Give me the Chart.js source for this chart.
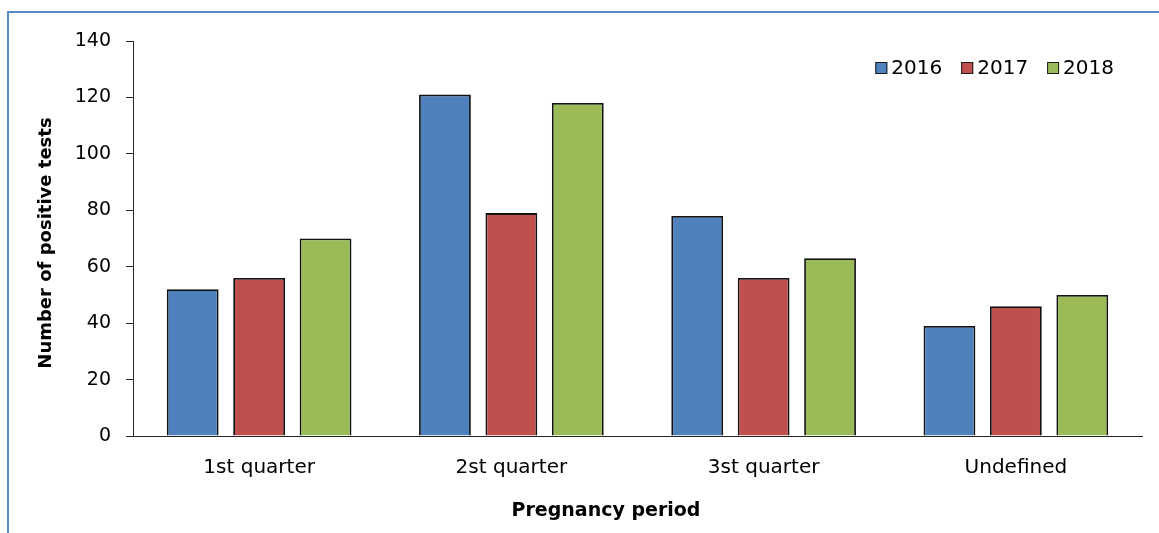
<!DOCTYPE html>
<html>
<head>
<meta charset="utf-8">
<script src="https://cdn.jsdelivr.net/npm/chart.js@4.4.1/dist/chart.umd.min.js"></script>
<style>
  html, body { margin: 0; padding: 0; background: #ffffff; overflow: hidden; }
  #frame {
    position: absolute; left: 7px; top: 11px;
    width: 1300px; height: 700px;
    border-left: 2px solid #5b8ac8; border-top: 2px solid #5b8ac8;
  }
  #chart { position: absolute; left: 0; top: 0; }
</style>
</head>
<body>
<div id="frame"></div>
<canvas id="chart" width="1159" height="533"></canvas>
<script>
// Positive tests by pregnancy period, per year
const categories = ['1st quarter', '2st quarter', '3st quarter', 'Undefined'];
const years = ['2016', '2017', '2018'];
const values2016 = [52, 121, 78, 39];
const values2017 = [56, 79, 56, 46];
const values2018 = [70, 118, 63, 50];
const yTicks = [0, 20, 40, 60, 80, 100, 120, 140];

const FONT = "'DejaVu Sans', sans-serif";
const colors = ['#4f81bd', '#c0504d', '#9bbb59'];
const series = [values2016, values2017, values2018];

const datasets = years.map((y, i) => ({
  label: y,
  data: series[i],
  backgroundColor: colors[i],
  borderColor: '#111111',
  borderWidth: 1.8,
  borderSkipped: 'bottom',
  categoryPercentage: 0.79,
  barPercentage: 0.78
}));

// Legend and axis titles drawn on the canvas
const decorations = {
  id: 'decorations',
  afterDraw(chart) {
    const ctx = chart.ctx;
    ctx.save();
    // legend, right-aligned near the top of the plot
    ctx.font = '20px ' + FONT;
    ctx.textBaseline = 'middle';
    ctx.textAlign = 'left';
    const box = 12, gap = 4, spacing = 19, cy = 68;
    const widths = chart.data.datasets.map(d => ctx.measureText(d.label).width);
    let total = 0;
    widths.forEach((w, i) => { total += box + gap + w + (i < widths.length - 1 ? spacing : 0); });
    let x = 1114 - total;
    chart.data.datasets.forEach((d, i) => {
      ctx.fillStyle = d.backgroundColor;
      ctx.fillRect(x, cy - box / 2, box, box);
      ctx.strokeStyle = '#1c1c1c';
      ctx.lineWidth = 1;
      ctx.strokeRect(x + 0.5, cy - box / 2 + 0.5, box - 1, box - 1);
      ctx.fillStyle = '#000000';
      ctx.fillText(d.label, x + box + gap, cy + 1);
      x += box + gap + widths[i] + spacing;
    });
    // axis titles
    ctx.font = 'bold 19px ' + FONT;
    ctx.textAlign = 'center';
    ctx.fillText('Pregnancy period', 606, 511);
    ctx.translate(46, 243);
    ctx.rotate(-Math.PI / 2);
    ctx.font = 'bold 18px ' + FONT;
    ctx.fillText('Number of positive tests', 0, 0);
    ctx.restore();
  }
};

new Chart(document.getElementById('chart'), {
  type: 'bar',
  data: { labels: categories, datasets: datasets },
  plugins: [decorations],
  options: {
    responsive: false,
    animation: false,
    layout: { padding: { left: 0, top: 41, right: 17, bottom: 40 } },
    plugins: { legend: { display: false }, tooltip: { enabled: false } },
    scales: {
      x: {
        grid: { display: false, drawTicks: false },
        border: { display: true, color: '#262626', width: 1 },
        ticks: { color: '#000000', font: { family: FONT, size: 20 }, padding: 20, maxRotation: 0 },
        afterFit(scale) { scale.height = 57; }
      },
      y: {
        min: 0,
        max: 140,
        afterBuildTicks(scale) { scale.ticks = yTicks.map(v => ({ value: v })); },
        grid: { drawOnChartArea: false, drawTicks: true, tickLength: 7, color: '#262626' },
        border: { display: true, color: '#262626', width: 1 },
        ticks: { color: '#000000', font: { family: FONT, size: 19 }, padding: 15 },
        afterFit(scale) { scale.width = 133; }
      }
    }
  }
});
</script>
</body>
</html>
